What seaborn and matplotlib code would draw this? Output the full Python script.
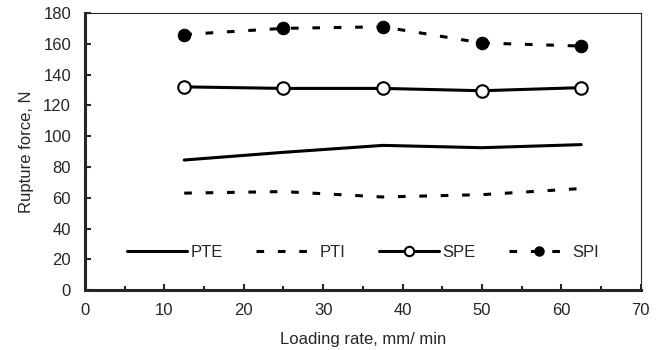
import pandas as pd
import seaborn as sns
import matplotlib.pyplot as plt
from matplotlib.ticker import MultipleLocator

# Loading rate (mm/min) and rupture force (N) per sample type
loading_rate = [12.5, 25, 37.5, 50, 62.5]
pte = [84.5, 89.5, 94, 92.5, 94.5]
pti = [63, 64, 60.5, 62, 66]
spe = [132, 131, 131, 129.5, 131.5]
spi = [166, 170, 171, 160.5, 158.5]

sns.set_style("ticks")
plt.rcParams['font.family'] = ['Liberation Sans', 'DejaVu Sans']

fig, ax = plt.subplots(figsize=(6.64, 3.5), dpi=100)

df = pd.DataFrame({"x": loading_rate, "PTE": pte, "PTI": pti, "SPE": spe, "SPI": spi})

sns.lineplot(data=df, x="x", y="PTE", ax=ax, color="black", lw=2.2, label="PTE")
sns.lineplot(data=df, x="x", y="PTI", ax=ax, color="black", lw=2.2,
             label="PTI").lines[-1].set_dashes([2.5, 4.5])
sns.lineplot(data=df, x="x", y="SPE", ax=ax, color="black", lw=2.2, marker="o", ms=9,
             mfc="white", mec="black", mew=1.5, label="SPE")
sns.lineplot(data=df, x="x", y="SPI", ax=ax, color="black", lw=2.2, marker="o", ms=9,
             mfc="black", mec="black", label="SPI").lines[-1].set_dashes([2.5, 4.5])

ax.set_xlim(0, 70)
ax.set_ylim(0, 180)
ax.xaxis.set_major_locator(MultipleLocator(10))
ax.xaxis.set_minor_locator(MultipleLocator(5))
ax.yaxis.set_major_locator(MultipleLocator(20))
ax.tick_params(axis="both", direction="in", labelsize=12, width=1.5, length=4)
ax.tick_params(axis="y", pad=10)
ax.tick_params(axis="x", pad=9)
ax.tick_params(axis="x", which="minor", direction="in", width=1.5, length=3)

for side in ["left", "bottom"]:
    ax.spines[side].set_linewidth(2.2)
for side in ["top", "right"]:
    ax.spines[side].set_linewidth(0.8)
    ax.spines[side].set_visible(True)

ax.set_xlabel("Loading rate, mm/ min", fontsize=12, labelpad=10)
ax.set_ylabel("Rupture force, N", fontsize=12, labelpad=7)

ax.legend(loc="center", bbox_to_anchor=(0.5, 0.135), ncol=4, frameon=False,
          fontsize=12, handlelength=3.6, columnspacing=2.0, handletextpad=0.2,
          markerscale=0.75)

plt.subplots_adjust(left=0.128, right=0.965, top=0.963, bottom=0.171)
plt.savefig("out.png", dpi=100)
